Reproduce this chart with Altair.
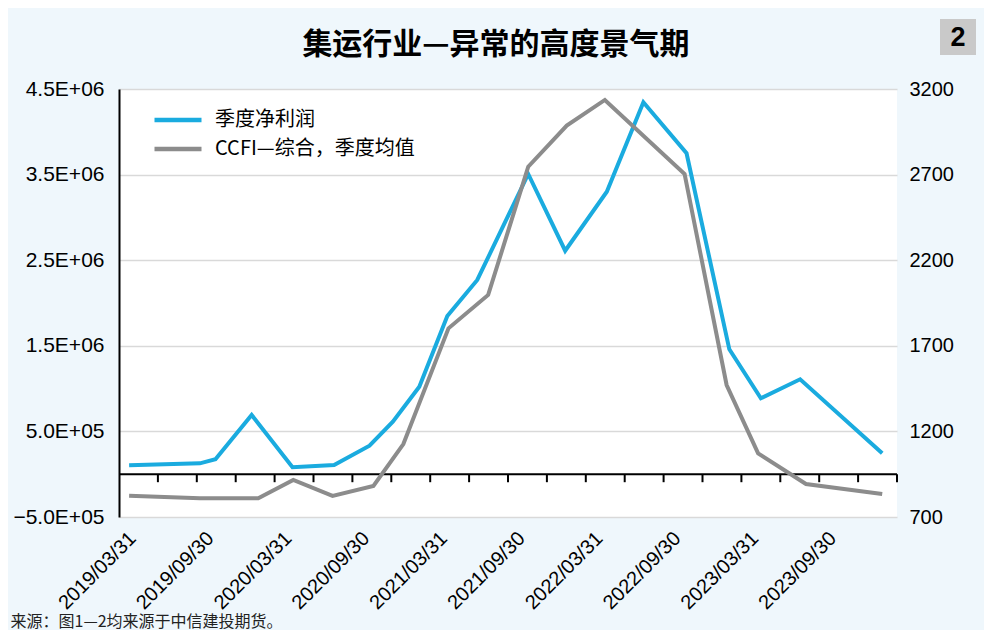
import altair as alt
import pandas as pd

# ---------------- data ----------------
title_text = "集运行业—异常的高度景气期"
source_text = "来源：图1—2均来源于中信建投期货。"
badge_text = "2"

blue_name = "季度净利润"
gray_name = "CCFI—综合，季度均值"

# x: position in quarters (0 = start of the 2019Q1 band, 20 = end of 2023Q4)
profit_x = [0.26, 2.08, 2.48, 3.41, 4.46, 5.53, 6.44, 7.04, 7.72, 8.44,
            9.21, 10.52, 11.47, 12.54, 13.48, 14.59, 15.69, 16.50, 17.51, 19.62]
profit_y = [104000, 127000, 174000, 692000, 81000, 107000, 333000, 613000, 1022000, 1848000,
            2269000, 3507000, 2611000, 3300000, 4345000, 3749000, 1459000, 887000, 1109000, 244000]

ccfi_x = [0.26, 2.08, 3.58, 4.48, 5.49, 6.54, 7.31, 8.47, 9.49, 10.52,
          11.51, 12.49, 14.54, 15.62, 16.43, 17.66, 19.62]
ccfi_y = [824, 809, 809, 916, 823, 881, 1126, 1802, 1997, 2746,
          2986, 3136, 2703, 1471, 1072, 893, 834]

x_label_pos = [0.5, 2.5, 4.5, 6.5, 8.5, 10.5, 12.5, 14.5, 16.5, 18.5]
x_labels = ["2019/03/31", "2019/09/30", "2020/03/31", "2020/09/30", "2021/03/31",
            "2021/09/30", "2022/03/31", "2022/09/30", "2023/03/31", "2023/09/30"]
x_tick_pos = list(range(1, 21))

left_ticks = [-500000, 500000, 1500000, 2500000, 3500000, 4500000]
left_labels = ["\u22125.0E+05", "5.0E+05", "1.5E+06", "2.5E+06", "3.5E+06", "4.5E+06"]
right_ticks = [700, 1200, 1700, 2200, 2700, 3200]

# ---------------- styles ----------------
BLUE = "#1AABDF"
GRAY = "#8C8C8C"
BG = "#EFF7FC"
NUM_FONT = "Liberation Sans"
CJK_FONT = "Noto Sans CJK SC"

profit_df = pd.DataFrame({"x": profit_x, "v": profit_y, "series": blue_name})
ccfi_df = pd.DataFrame({"x": ccfi_x, "v": ccfi_y, "series": gray_name})
zero_df = pd.DataFrame({"x": [0], "x1": [20], "v": [0]})
tick_df = pd.DataFrame({"x": x_tick_pos, "v": [0] * len(x_tick_pos)})
badge_df = pd.DataFrame({"t": [badge_text]})

xscale = alt.Scale(domain=[0, 20], nice=False, zero=False)
lscale = alt.Scale(domain=[-500000, 4500000], nice=False, zero=False)
rscale = alt.Scale(domain=[700, 3200], nice=False, zero=False)

xlab_expr = "[" + ",".join("'%s'" % s for s in x_labels) + "][round((datum.value - 0.5) / 2)]"
ylab_expr = "[" + ",".join("'%s'" % s for s in left_labels) + "][round((datum.value + 500000) / 1000000)]"

x_axis = alt.Axis(
    values=x_label_pos, labelExpr=xlab_expr, labelAngle=-45, labelAlign="right",
    labelBaseline="middle", labelFont=NUM_FONT, labelFontSize=20, labelColor="#000",
    labelPadding=18, labelOffset=-6, labelOverlap=False, labelBound=False,
    ticks=False, domain=False, grid=False,
    title=source_text, titleX=-109, titleY=104, titleAlign="left", titleAnchor="start",
    titleBaseline="middle", titleFont=CJK_FONT, titleFontSize=16, titleFontWeight="normal",
    titleColor="#222", titleAngle=0,
)

left_axis = alt.Axis(
    orient="left", values=left_ticks, labelExpr=ylab_expr, labelFont=NUM_FONT,
    labelFontSize=21, labelColor="#000", labelPadding=15, ticks=False,
    domain=True, domainColor="#000", domainWidth=2,
    grid=True, gridColor="#D9D9D9", gridWidth=1.5, title=None,
)
right_axis = alt.Axis(
    orient="right", values=right_ticks, format="d", labelFont=NUM_FONT,
    labelFontSize=20, labelColor="#000", labelPadding=12, ticks=False,
    domain=False, grid=False, title=None,
)


def make_legend(y):
    return alt.Legend(
        title=None, orient="none", legendX=33, legendY=y, symbolType="stroke",
        symbolSize=2209, symbolStrokeWidth=4.5, labelFont=CJK_FONT, labelFontSize=20,
        labelColor="#000", labelOffset=11, labelLimit=500, padding=0,
    )


X = alt.X("x:Q", scale=xscale, axis=x_axis)
YL = alt.Y("v:Q", scale=lscale, axis=left_axis)
C_blue = alt.Color("series:N", scale=alt.Scale(domain=[blue_name], range=[BLUE]),
                   legend=make_legend(5))
C_gray = alt.Color("series:N", scale=alt.Scale(domain=[gray_name], range=[GRAY]),
                   legend=make_legend(34))

blue_line = alt.Chart(profit_df).mark_line(strokeWidth=4).encode(x=X, y=YL, color=C_blue)
zero_line = alt.Chart(zero_df).mark_rule(color="#000", strokeWidth=2).encode(
    x=X, x2="x1:Q", y=YL,
)
ticks = alt.Chart(tick_df).mark_rule(color="#000", strokeWidth=2, y2Offset=8).encode(
    x=X, y=YL, y2="v:Q",
)
left_group = alt.layer(blue_line, zero_line, ticks)

gray_line = alt.Chart(ccfi_df).mark_line(strokeWidth=4).encode(
    x=X,
    y=alt.Y("v:Q", scale=rscale, axis=right_axis),
    color=C_gray,
)

badge_box = alt.Chart(badge_df).mark_rect(color="#C9C9C9").encode(
    x=alt.value(821), x2=alt.value(857), y=alt.value(-70), y2=alt.value(-34),
)
badge_txt = alt.Chart(badge_df).mark_text(
    font=NUM_FONT, fontSize=27, fontWeight="bold", color="#000", baseline="middle", align="center"
).encode(x=alt.value(839), y=alt.value(-51), text="t:N")

chart = alt.layer(left_group, gray_line, badge_box, badge_txt).resolve_scale(
    y="independent", color="independent"
).resolve_legend(
    color="independent"
).properties(
    width=778, height=428,
    autosize=alt.AutoSizeParams(type="none"),
    padding={"left": 111, "top": 81, "right": 87, "bottom": 113},
    background=BG,
    title=alt.TitleParams(
        title_text, font=CJK_FONT, fontSize=30, fontWeight="bold", color="#000",
        anchor="middle", dx=-12, baseline="bottom", offset=-71,
    ),
).configure_view(stroke=None, fill="white")

chart.save("out.html", embed_options={"renderer": "svg", "actions": False})
